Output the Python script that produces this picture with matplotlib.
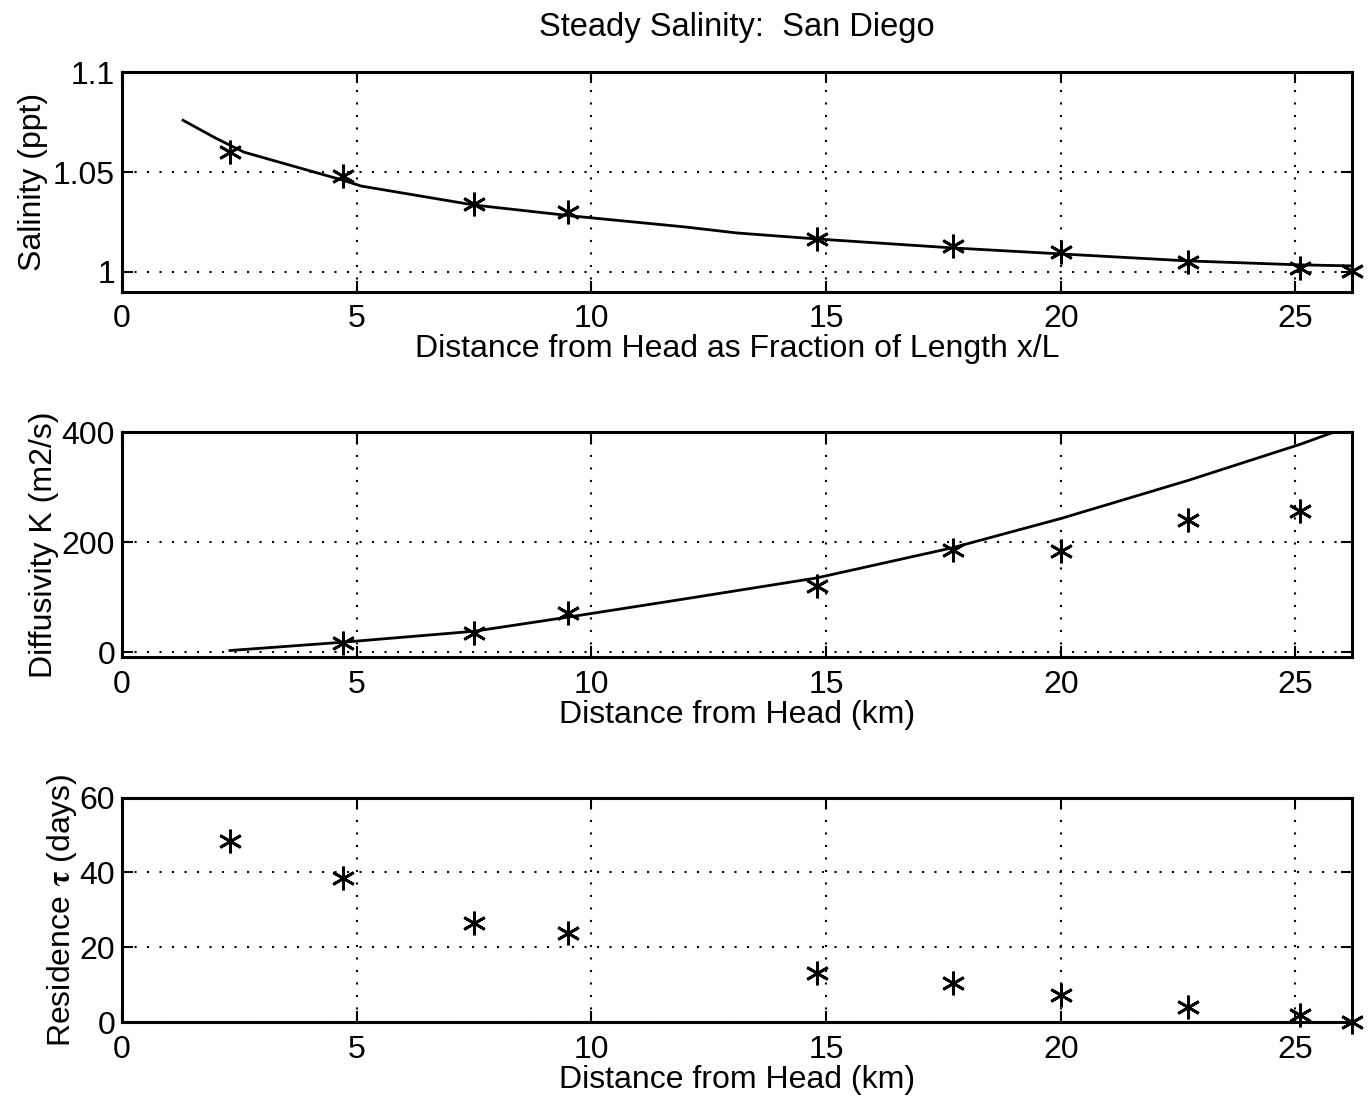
import numpy as np
import matplotlib.pyplot as plt

plt.rcParams['font.family'] = ['Liberation Sans', 'DejaVu Sans']
plt.rcParams['mathtext.fontset'] = 'stix'

# stations, km from head
x_km = [2.3, 4.7, 7.5, 9.5, 14.8, 17.7, 20.0, 22.7, 25.1, 26.2]

# salinity (normalised, ppt)
sal_obs = [1.060, 1.048, 1.034, 1.030, 1.0165, 1.013, 1.010, 1.005, 1.002, 1.0005]
sal_fit_x = [1.3, 2.0, 2.6, 3.2, 4.7, 5.1, 7.5, 9.6, 12.0, 13.1, 14.8, 17.7, 20.0, 22.7, 25.1, 26.2]
sal_fit = [1.076, 1.067, 1.060, 1.056, 1.046, 1.043, 1.0335, 1.028, 1.0225, 1.0195,
           1.0165, 1.012, 1.009, 1.0055, 1.0035, 1.003]

# diffusivity K (m2/s)
k_x = [4.7, 7.5, 9.5, 14.8, 17.7, 20.0, 22.7, 25.1]
k_obs = [17, 35, 72, 120, 185, 184, 240, 256]
k_fit_x = [2.3, 4.7, 7.5, 9.6, 12.0, 14.8, 17.7, 20.0, 22.7, 25.1, 26.2]
k_fit = [3, 18, 38, 65, 97, 135, 190, 243, 312, 378, 412]

# residence time (days)
tau = [48.3, 38.5, 26.6, 23.8, 13.2, 10.5, 7.3, 4.1, 2.0, 0.2]

fig = plt.figure(figsize=(13.71, 10.97), dpi=100)

star = (6, 2, 0)
fs = 23


def style(ax, yticks, ylabels):
    ax.set_xlim(0, 26.2)
    ax.set_xticks([0, 5, 10, 15, 20, 25])
    ax.set_yticks(yticks)
    ax.set_yticklabels(ylabels)
    ax.tick_params(direction='in', length=8, width=1.5, top=True, right=True,
                   labelsize=fs)
    ax.tick_params(axis='x', pad=9)
    ax.tick_params(axis='y', pad=5)
    ax.grid(True, color='black', linestyle=(0, (1, 5)), linewidth=1.5)
    for s in ax.spines.values():
        s.set_linewidth(2.2)


# top: salinity
ax1 = fig.add_axes([0.089, 0.734, 0.897, 0.200])
ax1.plot(sal_fit_x, sal_fit, 'k-', lw=2)
ax1.plot(x_km, sal_obs, 'k', ls='none', marker=star, ms=17, mew=2, clip_on=False)
ax1.set_ylim(0.99, 1.1)
style(ax1, [1, 1.05, 1.1], ['1', '1.05', '1.1'])
ax1.set_ylabel('Salinity (ppt)', fontsize=fs, labelpad=4)
ax1.set_xlabel('Distance from Head as Fraction of Length x/L', fontsize=fs, labelpad=0)
ax1.set_title('Steady Salinity:  San Diego', fontsize=23.5, pad=26)

# middle: diffusivity
ax2 = fig.add_axes([0.089, 0.401, 0.897, 0.205])
ax2.plot(k_fit_x, k_fit, 'k-', lw=2)
ax2.plot(k_x, k_obs, 'k', ls='none', marker=star, ms=17, mew=2)
ax2.set_ylim(-9, 400)
style(ax2, [0, 200, 400], ['0', '200', '400'])
ax2.set_ylabel('Diffusivity K (m2/s)', fontsize=fs, labelpad=2)
ax2.set_xlabel('Distance from Head (km)', fontsize=fs, labelpad=0)

# bottom: residence time
ax3 = fig.add_axes([0.089, 0.068, 0.897, 0.205])
ax3.plot(x_km, tau, 'k', ls='none', marker=star, ms=17, mew=2, clip_on=False)
ax3.set_ylim(0, 60)
style(ax3, [0, 20, 40, 60], ['0', '20', '40', '60'])
ax3.set_ylabel('Residence $\\mathbf{\\tau}$ (days)', fontsize=fs, labelpad=0)
ax3.set_xlabel('Distance from Head (km)', fontsize=fs, labelpad=0)

fig.savefig('out.png', dpi=100)
